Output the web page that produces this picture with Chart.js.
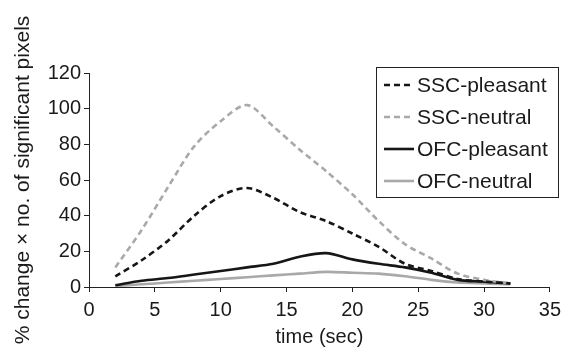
<!DOCTYPE html>
<html>
<head>
<meta charset="utf-8">
<script src="https://cdn.jsdelivr.net/npm/chart.js@4/dist/chart.umd.min.js"></script>
<style>
    html, body { margin: 0; padding: 0; background: #fff; }
    #wrap { width: 567px; height: 349px; }
</style>
</head>
<body>
<div id="wrap"><canvas id="chart"></canvas></div>
<script>
// time points (sec)
const times = [2, 4, 6, 8, 10, 12, 14, 16, 18, 20, 22, 24, 26, 28, 30, 32];

// values
const sscPleasant = [6, 15, 26, 40, 51, 55.5, 50, 42, 37, 30, 22.5, 13, 9, 4.5, 3, 2];
const sscNeutral = [11, 32, 56, 79, 93, 102, 90, 77, 65, 52, 37, 24, 16, 7.5, 4, 2];
const ofcPleasant = [1, 3.5, 5, 7, 9, 11, 13, 17, 19, 15.5, 13, 11, 8, 4, 3, 2];
const ofcNeutral = [0.5, 1.5, 2.5, 3.5, 4.5, 5.5, 6.5, 7.5, 8.5, 8, 7.5, 6, 4, 2.5, 2, 1.5];

const xTicks = [0, 5, 10, 15, 20, 25, 30, 35];
const yTicks = [0, 20, 40, 60, 80, 100, 120];

const FONT = "'Liberation Sans', Arial, sans-serif";
const BLACK = '#161616';
const GRAY = '#a9a9a9';

function toPoints(values) {
    return values.map((v, i) => ({ x: times[i], y: v }));
}

function makeSet(label, values, color, dashed) {
    return {
        label: label,
        data: toPoints(values),
        borderColor: color,
        backgroundColor: color,
        borderWidth: 2.6,
        borderDash: dashed ? [6, 4] : [],
        pointRadius: 0,
        tension: 0.3,
        fill: false,
    };
}

// legend drawn in a bordered box inside the plot, like the original
const boxLegend = {
    id: 'boxLegend',
    afterDraw(chart) {
        const ctx = chart.ctx;
        const left = 376, top = 67, right = 558, bottom = 197;
        ctx.save();
        ctx.strokeStyle = '#222';
        ctx.lineWidth = 1;
        ctx.strokeRect(left + 0.5, top + 0.5, right - left, bottom - top);
        ctx.font = '21px ' + FONT;
        ctx.textBaseline = 'middle';
        ctx.fillStyle = '#1a1a1a';
        const rows = [85, 117, 149, 181];
        chart.data.datasets.forEach((ds, i) => {
            const y = rows[i];
            ctx.beginPath();
            ctx.setLineDash(ds.borderDash);
            ctx.strokeStyle = ds.borderColor;
            ctx.lineWidth = ds.borderWidth;
            ctx.moveTo(384, y);
            ctx.lineTo(414, y);
            ctx.stroke();
            ctx.setLineDash([]);
            ctx.fillText(ds.label, 417, y + 1);
        });
        ctx.restore();
    }
};

new Chart('chart', {
    type: 'line',
    data: {
        datasets: [
            makeSet('SSC-pleasant', sscPleasant, BLACK, true),
            makeSet('SSC-neutral', sscNeutral, GRAY, true),
            makeSet('OFC-pleasant', ofcPleasant, BLACK, false),
            makeSet('OFC-neutral', ofcNeutral, GRAY, false),
        ],
    },
    options: {
        responsive: true,
        maintainAspectRatio: false,
        animation: false,
        layout: { padding: { left: 0, top: 73, right: 13, bottom: 0 } },
        plugins: {
            legend: { display: false },
            tooltip: { enabled: false },
        },
        scales: {
            x: {
                type: 'linear',
                min: 0,
                max: 35,
                afterBuildTicks: axis => { axis.ticks = xTicks.map(v => ({ value: v })); },
                afterFit: axis => { axis.height = 62; },
                grid: {
                    display: true,
                    drawOnChartArea: false,
                    drawTicks: true,
                    tickLength: 5,
                    color: '#222',
                },
                border: { color: '#222', width: 1 },
                ticks: {
                    color: '#1a1a1a',
                    font: { family: FONT, size: 20 },
                    padding: 6,
                    maxRotation: 0,
                },
                title: {
                    display: true,
                    text: 'time (sec)',
                    color: '#1a1a1a',
                    font: { family: FONT, size: 20 },
                    padding: { top: 2, bottom: 0 },
                },
            },
            y: {
                min: 0,
                max: 120,
                afterBuildTicks: axis => { axis.ticks = yTicks.map(v => ({ value: v })); },
                afterFit: axis => { axis.width = 89; },
                grid: {
                    display: true,
                    drawOnChartArea: false,
                    drawTicks: true,
                    tickLength: 5,
                    color: '#222',
                },
                border: { color: '#222', width: 1 },
                ticks: {
                    color: '#1a1a1a',
                    font: { family: FONT, size: 20 },
                    padding: 3,
                },
                title: {
                    display: true,
                    text: '% change \u00d7 no. of significant pixels',
                    color: '#1a1a1a',
                    font: { family: FONT, size: 21 },
                    padding: { top: 11, bottom: 0 },
                },
            },
        },
    },
    plugins: [boxLegend],
});
</script>
</body>
</html>
